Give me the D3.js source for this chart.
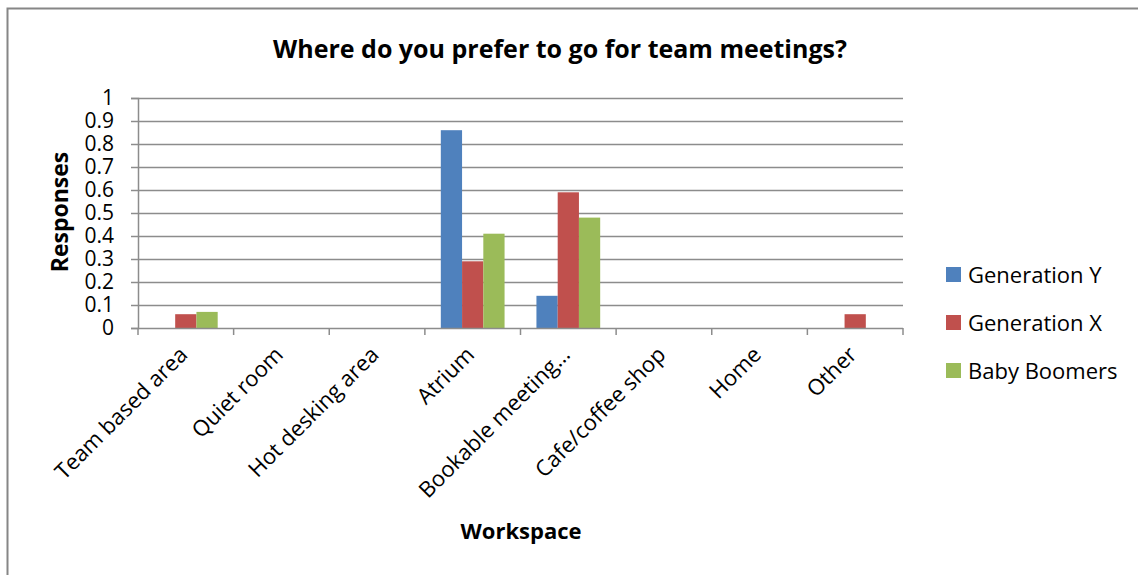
<!DOCTYPE html>
<html>
<head>
<meta charset="utf-8">
<script src="https://cdn.jsdelivr.net/npm/d3@7"></script>
<style>
  body { margin: 0; background: #fff; }
  text { font-family: "Open Sans", "Liberation Sans", sans-serif; fill: #000; }
</style>
</head>
<body>
<div id="chart"></div>
<script>
// chart data
var categories = ["Team based area", "Quiet room", "Hot desking area", "Atrium",
    "Bookable meeting\u2026", "Cafe/coffee shop", "Home", "Other"];
var seriesNames = ["Generation Y", "Generation X", "Baby Boomers"];
var generationY = [0, 0, 0, 0.86, 0.14, 0, 0, 0];
var generationX = [0.06, 0, 0, 0.29, 0.59, 0, 0, 0.06];
var babyBoomers = [0.07, 0, 0, 0.41, 0.48, 0, 0, 0];
var yTicks = [0, 0.1, 0.2, 0.3, 0.4, 0.5, 0.6, 0.7, 0.8, 0.9, 1];
var colors = ["#4F81BD", "#C0504D", "#9BBB59"];

var width = 1138;
var height = 575;
var plot = { left: 138, right: 903, top: 98, bottom: 328 };

var svg = d3.select("#chart").
    append("svg").
    attr("width", width).
    attr("height", height);

// outer chart frame
svg.append("rect").
    attr("x", 7.5).
    attr("y", 8.5).
    attr("width", 1200).
    attr("height", 700).
    attr("fill", "none").
    attr("stroke", "#868686").
    attr("stroke-width", 2);

var xScale = d3.scaleBand().
    domain(categories).
    range([plot.left, plot.right]).
    paddingInner(0).
    paddingOuter(0);

var yScale = d3.scaleLinear().
    domain([0, 1]).
    range([plot.bottom, plot.top]);

// bar width from a 150% gap
var barW = xScale.bandwidth() / 4.5;
var xSub = d3.scaleBand().
    domain(seriesNames).
    range([barW * 0.75, xScale.bandwidth() - barW * 0.75]);

// gridlines
svg.append("g").
    selectAll("line").
    data(yTicks.slice(1)).
    enter().
    append("line").
    attr("x1", plot.left).
    attr("x2", plot.right).
    attr("y1", function (d) { return Math.round(yScale(d)) + 0.5; }).
    attr("y2", function (d) { return Math.round(yScale(d)) + 0.5; }).
    attr("stroke", "#8c8c8c").
    attr("stroke-width", 1.5);

var series = [generationY, generationX, babyBoomers];
series.forEach(function (values, s) {
    svg.append("g").
        selectAll("rect").
        data(values).
        enter().
        append("rect").
        attr("x", function (d, i) { return xScale(categories[i]) + xSub(seriesNames[s]); }).
        attr("width", xSub.bandwidth()).
        attr("y", function (d) { return yScale(d); }).
        attr("height", function (d) { return plot.bottom - yScale(d); }).
        attr("fill", colors[s]);
});

// y axis
var yAxis = d3.axisLeft(yScale).
    tickValues(yTicks).
    tickSize(7).
    tickPadding(17).
    tickFormat(d3.format("~g"));

var gy = svg.append("g").
    attr("transform", "translate(" + plot.left + ",0)").
    call(yAxis);
gy.select(".domain").attr("stroke", "#8c8c8c").attr("stroke-width", 1.5);
gy.selectAll(".tick line").attr("stroke", "#8c8c8c").attr("stroke-width", 1.5);
gy.selectAll(".tick text").
    style("font-size", "21px").
    attr("fill", "#000");

// x axis with ticks on category boundaries
var boundaries = d3.range(categories.length + 1).map(function (i) {
    return plot.left + i * xScale.bandwidth();
});
svg.append("line").
    attr("x1", plot.left).
    attr("x2", plot.right).
    attr("y1", plot.bottom + 0.5).
    attr("y2", plot.bottom + 0.5).
    attr("stroke", "#8c8c8c").
    attr("stroke-width", 1.5);
svg.append("g").
    selectAll("line").
    data(boundaries).
    enter().
    append("line").
    attr("x1", function (d) { return d; }).
    attr("x2", function (d) { return d; }).
    attr("y1", plot.bottom).
    attr("y2", plot.bottom + 7).
    attr("stroke", "#8c8c8c").
    attr("stroke-width", 1.5);

svg.append("g").
    selectAll("text").
    data(categories).
    enter().
    append("text").
    attr("transform", function (d) {
        var cx = xScale(d) + xScale.bandwidth() / 2 + 3;
        return "translate(" + cx + "," + (plot.bottom + 28) + ") rotate(-45)";
    }).
    attr("text-anchor", "end").
    style("font-size", "22px").
    text(function (d) { return d; });

// titles
svg.append("text").
    attr("x", 560).
    attr("y", 58).
    attr("text-anchor", "middle").
    style("font-size", "25px").
    style("font-weight", "bold").
    text("Where do you prefer to go for team meetings?");

svg.append("text").
    attr("transform", "translate(68,212) rotate(-90)").
    attr("text-anchor", "middle").
    style("font-size", "23px").
    style("font-weight", "bold").
    text("Responses");

svg.append("text").
    attr("x", 521).
    attr("y", 539).
    attr("text-anchor", "middle").
    style("font-size", "22px").
    style("font-weight", "bold").
    text("Workspace");

// legend
var legend = svg.append("g").
    selectAll("g").
    data(seriesNames).
    enter().
    append("g").
    attr("transform", function (d, i) {
        return "translate(946," + (275 + i * 48) + ")";
    });
legend.append("rect").
    attr("x", 0).
    attr("y", -8).
    attr("width", 15).
    attr("height", 15).
    attr("fill", function (d, i) { return colors[i]; });
legend.append("text").
    attr("x", 22).
    attr("y", 8).
    style("font-size", "22px").
    text(function (d) { return d; });
</script>
</body>
</html>
